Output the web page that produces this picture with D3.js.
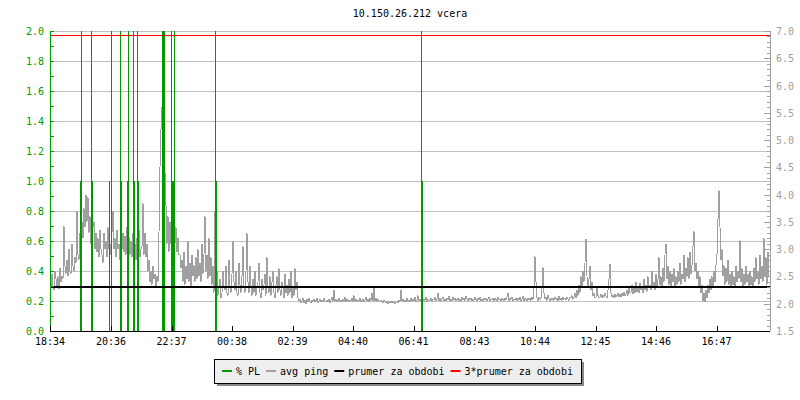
<!DOCTYPE html>
<html>
<head>
<meta charset="utf-8">
<script src="https://cdn.jsdelivr.net/npm/d3@7/dist/d3.min.js"></script>
<style>
	body { margin: 0; background: #fff; }
	svg { display: block; font-family: 'DejaVu Sans Mono', monospace; font-size: 10px; }
</style>
</head>
<body>
<div id="chart"></div>
<script>
// --- data ---
const title = '10.150.26.212 vcera';
const startLabel = '18:34';
const timeLabels = ['18:34', '20:36', '22:37', '00:38', '02:39', '04:40', '06:41', '08:43', '10:44', '12:45', '14:46', '16:47'];

// packet loss samples: minutes after start, % PL (values >= 2 run off the top)
const plTimes = [60, 62, 82, 84, 120, 122, 140, 142, 154, 156, 166, 168, 174, 176, 224, 226, 228, 242, 244, 246, 248, 330, 332, 742, 744];
const plValues = [1, 2, 2, 1, 1, 2, 2, 1, 1, 2, 2, 1, 2, 1, 2, 2, 2, 2, 1, 1, 2, 2, 1, 2, 1];

// avg ping, one sample every 2 minutes (right axis)
const pingStep = 2;
const ping = [
	2.35, 2.28, 2.55, 2.30, 2.25, 2.60, 2.45, 2.30, 2.50, 2.27, 2.65, 2.40,
	2.50, 2.45, 3.42, 2.70, 2.55, 2.80, 2.50, 3.00, 2.60, 2.55, 3.10, 2.70,
	2.60, 2.85, 2.75, 3.70, 2.90, 2.80, 3.30, 3.00, 3.50, 3.20, 3.75, 3.40,
	4.00, 3.50, 3.95, 3.30, 3.60, 3.10, 3.90, 3.40, 3.50, 3.00, 3.30, 2.95,
	3.20, 2.85, 3.35, 3.00, 2.90, 2.75, 3.30, 3.00, 3.15, 2.85, 3.40, 3.00,
	3.10, 2.90, 3.30, 3.70, 3.00, 3.20, 2.85, 3.35, 3.00, 3.10, 2.80, 3.45,
	3.00, 3.30, 2.95, 3.25, 2.90, 3.40, 3.10, 3.20, 2.90, 3.15, 2.85, 3.30,
	2.95, 3.10, 2.80, 3.20, 2.95, 3.35, 2.85, 3.00, 3.05, 3.85, 2.90, 3.30,
	2.85, 3.10, 2.60, 2.80, 2.40, 2.60, 2.35, 2.70, 2.45, 2.55, 2.30, 2.50,
	2.40, 3.30, 4.50, 5.20, 5.60, 4.90, 5.30, 4.40, 3.80, 3.10, 3.60, 2.95,
	3.50, 3.10, 3.30, 3.00, 3.70, 3.10, 3.40, 2.95, 3.20, 2.90, 2.90, 2.65,
	2.80, 2.40, 2.95, 2.35, 2.70, 2.45, 3.15, 2.40, 2.75, 2.30, 2.90, 2.50,
	2.70, 2.40, 2.85, 2.45, 3.00, 2.50, 2.75, 2.40, 3.10, 2.55, 2.90, 3.60,
	2.60, 2.90, 2.45, 3.20, 2.50, 2.85, 2.35, 2.70, 2.20, 3.70, 2.30, 2.60,
	2.15, 2.30, 2.45, 2.10, 2.20, 2.60, 2.30, 2.25, 2.70, 2.20, 2.15, 2.80,
	2.30, 2.20, 2.55, 3.15, 2.40, 2.25, 2.60, 2.20, 2.15, 2.75, 2.35, 2.20,
	2.50, 3.05, 2.30, 2.20, 2.60, 3.30, 2.40, 2.20, 2.70, 2.30, 2.15, 2.45,
	2.20, 2.60, 2.15, 2.30, 2.40, 2.75, 2.20, 2.10, 2.45, 2.25, 2.35, 2.55,
	2.15, 2.85, 2.30, 2.20, 2.50, 2.15, 2.40, 2.60, 2.20, 2.10, 2.35, 2.50,
	2.20, 2.65, 2.25, 2.15, 2.40, 2.30, 2.10, 2.55, 2.20, 2.35, 2.15, 2.45,
	2.20, 2.60, 2.10, 2.30, 2.15, 2.65, 2.25, 2.40, 2.10, 2.05, 2.08, 2.02,
	2.05, 2.10, 2.02, 2.06, 2.00, 2.08, 2.03, 2.10, 2.05, 2.01, 2.07, 2.04,
	2.08, 2.03, 2.06, 2.10, 2.02, 2.05, 2.09, 2.03, 2.06, 2.04, 2.10, 2.05,
	2.03, 2.07, 2.04, 2.09, 2.02, 2.06, 2.12, 2.04, 2.25, 2.05, 2.08, 2.03,
	2.06, 2.10, 2.04, 2.07, 2.03, 2.09, 2.05, 2.12, 2.04, 2.08, 2.06, 2.03,
	2.07, 2.05, 2.10, 2.04, 2.15, 2.06, 2.09, 2.03, 2.07, 2.05, 2.10, 2.04,
	2.06, 2.09, 2.03, 2.07, 2.12, 2.05, 2.08, 2.04, 2.10, 2.06, 2.20, 2.05,
	2.30, 2.06, 2.10, 2.04, 2.08, 2.05, 2.03, 2.07, 2.04, 2.02, 2.06, 2.03,
	2.01, 2.04, 2.00, 2.03, 2.02, 2.05, 2.01, 2.04, 2.02, 2.00, 2.03, 2.05,
	2.02, 2.06, 2.04, 2.25, 2.05, 2.08, 2.03, 2.06, 2.04, 2.10, 2.05, 2.07,
	2.04, 2.10, 2.06, 2.08, 2.05, 2.12, 2.04, 2.07, 2.15, 2.05, 2.09, 2.06,
	2.10, 2.05, 2.08, 2.06, 2.12, 2.04, 2.09, 2.07, 2.05, 2.11, 2.06, 2.08,
	2.07, 2.12, 2.05, 2.09, 2.20, 2.06, 2.10, 2.05, 2.08, 2.13, 2.06, 2.09,
	2.05, 2.10, 2.07, 2.14, 2.06, 2.09, 2.05, 2.12, 2.07, 2.10, 2.05, 2.08,
	2.10, 2.06, 2.09, 2.05, 2.12, 2.07, 2.10, 2.06, 2.14, 2.08, 2.05, 2.10,
	2.07, 2.11, 2.05, 2.09, 2.06, 2.12, 2.08, 2.05, 2.10, 2.07, 2.13, 2.06,
	2.09, 2.05, 2.11, 2.07, 2.10, 2.06, 2.08, 2.12, 2.05, 2.09, 2.07, 2.11,
	2.06, 2.10, 2.08, 2.05, 2.12, 2.07, 2.09, 2.06, 2.11, 2.08, 2.05, 2.10,
	2.07, 2.12, 2.20, 2.06, 2.10, 2.08, 2.13, 2.05, 2.09, 2.07, 2.11, 2.06,
	2.10, 2.07, 2.12, 2.05, 2.09, 2.14, 2.06, 2.10, 2.08, 2.05, 2.11, 2.07,
	2.10, 2.06, 2.12, 2.08, 2.30, 2.87, 2.40, 2.10, 2.05, 2.12, 2.08, 2.10,
	2.30, 2.67, 2.20, 2.08, 2.12, 2.06, 2.15, 2.09, 2.05, 2.11, 2.07, 2.10,
	2.06, 2.12, 2.08, 2.10, 2.05, 2.14, 2.07, 2.10, 2.06, 2.12, 2.08, 2.11,
	2.07, 2.13, 2.09, 2.06, 2.12, 2.10, 2.15, 2.08, 2.12, 2.20, 2.10, 2.25,
	2.15, 2.35, 2.20, 2.50, 2.30, 2.60, 2.40, 2.75, 3.19, 2.50, 2.30, 2.45,
	2.70, 2.25, 2.40, 2.15, 2.20, 2.10, 2.12, 2.30, 2.15, 2.10, 2.12, 2.18,
	2.10, 2.15, 2.12, 2.20, 2.14, 2.10, 2.25, 2.45, 2.73, 2.20, 2.12, 2.15,
	2.10, 2.18, 2.12, 2.15, 2.20, 2.13, 2.17, 2.12, 2.20, 2.15, 2.22, 2.14,
	2.18, 2.25, 2.15, 2.30, 2.20, 2.22, 2.35, 2.18, 2.28, 2.20, 2.40, 2.22,
	2.30, 2.20, 2.38, 2.25, 2.32, 2.20, 2.45, 2.25, 2.35, 2.22, 2.50, 2.28,
	2.35, 2.25, 2.60, 2.30, 2.40, 2.25, 2.55, 2.30, 2.45, 2.85, 2.35, 2.50,
	2.30, 2.65, 2.40, 2.90, 3.10, 2.45, 2.70, 2.35, 2.60, 2.30, 2.55, 2.40,
	2.65, 2.30, 2.50, 2.35, 2.60, 2.40, 2.75, 2.35, 2.55, 2.45, 2.90, 2.40,
	2.65, 2.50, 2.85, 2.45, 2.95, 2.55, 2.70, 3.05, 3.33, 2.60, 2.75, 2.45,
	2.60, 2.30, 2.50, 2.20, 2.35, 2.05, 2.20, 2.03, 2.25, 2.10, 2.35, 2.20,
	2.45, 2.25, 2.50, 2.30, 2.60, 2.40, 2.70, 2.90, 3.55, 4.08, 3.40, 2.80,
	3.00, 2.50, 2.70, 2.35, 2.65, 2.40, 2.80, 2.35, 2.55, 2.30, 2.60, 2.35,
	2.50, 2.30, 2.70, 2.40, 2.60, 2.45, 3.17, 2.40, 2.65, 2.30, 2.55, 2.35,
	2.70, 2.40, 2.55, 2.30, 2.60, 2.35, 2.50, 2.30, 2.65, 2.40, 2.85, 2.45,
	2.60, 2.35, 2.90, 2.45, 2.70, 2.40, 3.20, 2.50, 2.85, 2.35, 2.95, 2.50
];
const pingAvg = 2.307; // prumer za obdobi

const legendLabels = ['% PL', 'avg ping', 'prumer za obdobi', '3*prumer za obdobi'];
const legendColors = ['#009900', '#a0a0a0', '#000000', '#ff0000'];

// --- layout ---
const width = 800;
const height = 400;
const marginLeft = 50;
const marginRight = 30;
const marginTop = 31;
const marginBottom = 69;
const green = '#009900';
const grey = '#a0a0a0';

function toMinutes(label) {
	const [h, m] = label.split(':').map(Number);
	const [h0, m0] = startLabel.split(':').map(Number);
	let d = h * 60 + m - (h0 * 60 + m0);
	if (d < 0) d += 1440;
	return d;
}

const scaleX = d3.scaleLinear().domain([0, 1440]).range([marginLeft, width - marginRight]);
const scaleL = d3.scaleLinear().domain([0, 2]).range([height - marginBottom, marginTop]).clamp(true);
const scaleR = d3.scaleLinear().domain([1.5, 7]).range([height - marginBottom, marginTop]);

const $svg = d3.select('#chart').append('svg').attr('width', width).attr('height', height);
const x0 = scaleX.range()[0];
const x1 = scaleX.range()[1];
const yBottom = scaleL(0);

// title
$svg.append('text')
	.attr('x', (x0 + x1) / 2)
	.attr('y', 14)
	.attr('text-anchor', 'middle')
	.attr('dominant-baseline', 'middle')
	.attr('fill', '#000')
	.text(title);

// horizontal grid
const $grid = $svg.append('g').attr('shape-rendering', 'crispEdges');
$grid.selectAll('line')
	.data(d3.range(1, 11).map(d => d * 0.2))
	.join('line')
	.attr('x1', x0).attr('x2', x1)
	.attr('y1', d => Math.round(scaleL(d)) + 0.5)
	.attr('y2', d => Math.round(scaleL(d)) + 0.5)
	.attr('stroke', '#c0c0c0');

// avg ping
const line = d3.line()
	.x((d, i) => scaleX(i * pingStep))
	.y(d => scaleR(d));
$svg.append('path')
	.datum(ping)
	.attr('d', line)
	.attr('fill', 'none')
	.attr('stroke', grey)
	.attr('stroke-width', 1)
	.attr('shape-rendering', 'crispEdges');

// packet loss impulses
const pl = plTimes.map((t, i) => ({ t, v: plValues[i] }));
$svg.append('g')
	.attr('shape-rendering', 'crispEdges')
	.selectAll('rect')
	.data(pl)
	.join('rect')
	.attr('x', d => Math.floor(scaleX(d.t)))
	.attr('width', scaleX(2) - scaleX(0))
	.attr('y', d => scaleL(d.v))
	.attr('height', d => yBottom - scaleL(d.v))
	.attr('fill', green);

// averages
$svg.append('line')
	.attr('x1', x0).attr('x2', x1)
	.attr('y1', Math.round(scaleR(pingAvg)))
	.attr('y2', Math.round(scaleR(pingAvg)))
	.attr('stroke', '#000')
	.attr('stroke-width', 2)
	.attr('shape-rendering', 'crispEdges');
$svg.append('line')
	.attr('x1', x0).attr('x2', x1)
	.attr('y1', Math.floor(scaleR(pingAvg * 3)) + 0.5)
	.attr('y2', Math.floor(scaleR(pingAvg * 3)) + 0.5)
	.attr('stroke', '#ff0000')
	.attr('shape-rendering', 'crispEdges');

// left axis (% PL)
const $left = $svg.append('g').attr('shape-rendering', 'crispEdges');
$left.append('line')
	.attr('x1', x0 + 0.5).attr('x2', x0 + 0.5)
	.attr('y1', scaleL(2)).attr('y2', yBottom)
	.attr('stroke', green);
$left.selectAll('.tick')
	.data(d3.range(0, 21).map(d => d / 10))
	.join('line')
	.attr('class', 'tick')
	.attr('x1', x0).attr('x2', x0 + 4)
	.attr('y1', d => Math.round(scaleL(d)) + 0.5)
	.attr('y2', d => Math.round(scaleL(d)) + 0.5)
	.attr('stroke', green);
$svg.append('g')
	.selectAll('text')
	.data(d3.range(0, 11).map(d => d * 0.2))
	.join('text')
	.attr('x', x0 - 6)
	.attr('y', d => scaleL(d) + 1)
	.attr('text-anchor', 'end')
	.attr('dominant-baseline', 'middle')
	.attr('fill', green)
	.text(d => d.toFixed(1));

// right axis (avg ping)
const $right = $svg.append('g').attr('shape-rendering', 'crispEdges');
$right.append('line')
	.attr('x1', x1 + 0.5).attr('x2', x1 + 0.5)
	.attr('y1', scaleR(7)).attr('y2', scaleR(1.5))
	.attr('stroke', grey);
$right.selectAll('.tick')
	.data(d3.range(15, 71).map(d => d / 10))
	.join('line')
	.attr('class', 'tick')
	.attr('x1', (d, i) => x1 - (i % 5 === 0 ? 6 : 3)).attr('x2', x1)
	.attr('y1', d => Math.round(scaleR(d)) + 0.5)
	.attr('y2', d => Math.round(scaleR(d)) + 0.5)
	.attr('stroke', grey);
$svg.append('g')
	.selectAll('text')
	.data(d3.range(3, 15).map(d => d * 0.5))
	.join('text')
	.attr('x', x1 + 6)
	.attr('y', d => scaleR(d) + 1)
	.attr('dominant-baseline', 'middle')
	.attr('fill', grey)
	.text(d => d.toFixed(1));

// bottom axis (time)
const $bottom = $svg.append('g').attr('shape-rendering', 'crispEdges');
$bottom.append('line')
	.attr('x1', x0).attr('x2', x1)
	.attr('y1', yBottom + 0.5).attr('y2', yBottom + 0.5)
	.attr('stroke', '#000');
$bottom.selectAll('.tick')
	.data(timeLabels)
	.join('line')
	.attr('class', 'tick')
	.attr('x1', d => Math.round(scaleX(toMinutes(d))) + 0.5)
	.attr('x2', d => Math.round(scaleX(toMinutes(d))) + 0.5)
	.attr('y1', yBottom - 5).attr('y2', yBottom)
	.attr('stroke', '#000');
$svg.append('g')
	.selectAll('text')
	.data(timeLabels)
	.join('text')
	.attr('x', d => scaleX(toMinutes(d)))
	.attr('y', yBottom + 11)
	.attr('text-anchor', 'middle')
	.attr('dominant-baseline', 'middle')
	.attr('fill', '#000')
	.text(d => d);

// legend
const charW = 6.02;
const segW = 10;
const $legend = $svg.append('g').attr('transform', 'translate(214, 359)');
let lx = 8;
const items = legendLabels.map((label, i) => {
	const item = { label, color: legendColors[i], x: lx };
	lx += segW + 4 + label.length * charW + 6;
	return item;
});
const boxW = 367;
const boxH = 24;
$legend.append('rect')
	.attr('x', 3).attr('y', 3)
	.attr('width', boxW).attr('height', boxH)
	.attr('fill', '#888');
$legend.append('rect')
	.attr('x', 0.5).attr('y', 0.5)
	.attr('width', boxW).attr('height', boxH)
	.attr('fill', '#eeeeee')
	.attr('stroke', '#000')
	.attr('shape-rendering', 'crispEdges');
const $item = $legend.selectAll('.item')
	.data(items)
	.join('g')
	.attr('class', 'item')
	.attr('transform', d => `translate(${d.x}, 12)`);
$item.append('rect')
	.attr('x', 0).attr('y', -1)
	.attr('width', segW).attr('height', 2)
	.attr('fill', d => d.color);
$item.append('text')
	.attr('x', segW + 4)
	.attr('y', 1)
	.attr('dominant-baseline', 'middle')
	.attr('fill', '#000')
	.text(d => d.label);
</script>
</body>
</html>
